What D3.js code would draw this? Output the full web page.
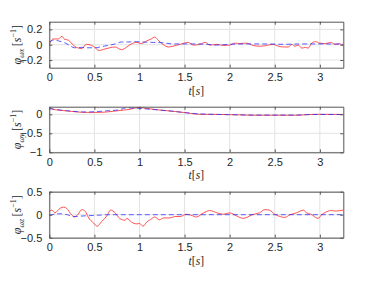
<!DOCTYPE html>
<html>
<head>
<meta charset="utf-8">
<script src="https://cdn.jsdelivr.net/npm/d3@7"></script>
<style>
  body { margin: 0; background: #fff; }
  text { font-family: "Liberation Sans", Arial, sans-serif; }
</style>
</head>
<body>
<svg id="chart" width="379" height="285"></svg>
<script>
// data
var xTicks = [0, 0.5, 1, 1.5, 2, 2.5, 3];

var tRedX = [0, 0.01, 0.045, 0.1, 0.14, 0.17, 0.21, 0.27, 0.3, 0.36, 0.41, 0.47, 0.51, 0.55, 0.62, 0.67, 0.73, 0.8, 0.86, 0.91, 0.97, 1.02, 1.08, 1.13, 1.17, 1.21, 1.26, 1.32, 1.37, 1.45, 1.54, 1.6, 1.67, 1.73, 1.78, 1.86, 1.93, 2.0, 2.06, 2.11, 2.19, 2.26, 2.34, 2.41, 2.48, 2.54, 2.61, 2.65, 2.69, 2.72, 2.76, 2.8, 2.84, 2.87, 2.91, 2.95, 3.0, 3.06, 3.12, 3.17, 3.21, 3.26];
var redX = [0.0, 0.03, 0.075, 0.075, 0.11, 0.07, 0.06, -0.01, -0.035, -0.05, 0.005, -0.01, -0.04, -0.075, -0.055, -0.04, -0.03, -0.065, -0.03, 0.01, 0.03, 0.015, 0.05, 0.075, 0.1, 0.055, 0.005, -0.03, -0.02, 0.005, 0.03, -0.005, 0.005, 0.03, -0.005, 0.005, -0.01, -0.005, 0.02, 0.015, 0.02, -0.01, -0.02, -0.01, 0.005, -0.02, -0.03, -0.03, 0.005, -0.02, -0.005, -0.045, -0.035, -0.045, 0.02, 0.04, 0.02, 0.015, 0.03, 0.005, 0.015, -0.02];
var tBlueX = [0, 0.045, 0.1, 0.17, 0.22, 0.28, 0.36, 0.43, 0.51, 0.58, 0.65, 0.73, 0.8, 0.87, 0.97, 1.04, 1.15, 1.26, 1.37, 1.48, 1.59, 1.75, 1.85, 2.0, 2.2, 2.4, 2.6, 2.8, 3.0, 3.26];
var blueX = [0.03, 0.06, 0.05, 0.025, -0.005, -0.04, -0.035, -0.04, -0.04, -0.025, -0.01, 0.01, 0.035, 0.035, 0.04, 0.035, 0.03, 0.025, 0.01, 0.01, 0.01, 0.005, -0.005, 0.005, 0.01, 0.01, 0.005, 0.01, 0.01, 0.005];

var tRedY = [0, 0.045, 0.19, 0.41, 0.56, 0.71, 0.82, 0.89, 0.99, 1.08, 1.23, 1.37, 1.52, 1.67, 1.78, 2.0, 2.11, 2.25, 2.48, 2.75, 2.85, 3.0, 3.26];
var redY = [0.18, 0.13, 0.09, 0.05, 0.05, 0.08, 0.11, 0.13, 0.18, 0.155, 0.11, 0.08, 0.04, 0.0, -0.0, -0.01, -0.015, -0.025, -0.025, -0.025, -0.01, 0.0, -0.005];
var tBlueY = [0, 0.19, 0.41, 0.63, 0.78, 0.85, 0.96, 1.08, 1.23, 1.37, 1.52, 1.67, 1.78, 2.0, 2.11, 2.25, 2.48, 2.75, 2.85, 3.0, 3.26];
var blueY = [0.15, 0.095, 0.06, 0.09, 0.12, 0.17, 0.16, 0.14, 0.11, 0.08, 0.04, 0.01, 0.0, -0.01, -0.015, -0.02, -0.02, -0.02, -0.01, -0.005, -0.005];

var tRedZ = [0, 0.03, 0.06, 0.12, 0.16, 0.19, 0.25, 0.28, 0.32, 0.36, 0.4, 0.43, 0.49, 0.53, 0.58, 0.64, 0.68, 0.73, 0.78, 0.84, 0.86, 0.91, 0.97, 1.0, 1.04, 1.08, 1.12, 1.17, 1.22, 1.27, 1.34, 1.39, 1.45, 1.52, 1.57, 1.63, 1.71, 1.78, 1.86, 1.93, 2.0, 2.08, 2.15, 2.2, 2.25, 2.33, 2.39, 2.44, 2.5, 2.56, 2.61, 2.67, 2.74, 2.82, 2.85, 2.9, 2.98, 3.02, 3.07, 3.12, 3.18, 3.26];
var redZ = [0.07, 0.1, 0.04, 0.14, 0.165, 0.14, -0.01, -0.05, 0.01, 0.11, 0.07, -0.05, -0.18, -0.25, -0.15, -0.02, 0.1, 0.04, -0.08, -0.12, -0.08, -0.16, -0.2, -0.19, -0.25, -0.16, -0.11, -0.05, -0.11, -0.07, -0.07, -0.04, -0.04, 0.01, -0.01, -0.05, 0.04, 0.09, 0.04, 0.01, 0.04, -0.03, -0.08, -0.05, 0.0, 0.04, 0.11, 0.1, 0.01, -0.04, -0.06, 0.0, 0.04, 0.1, 0.04, 0.01, -0.08, 0.0, 0.06, 0.09, 0.08, 0.1];
var tBlueZ = [0, 0.12, 0.2, 0.27, 0.35, 0.45, 0.55, 0.65, 0.8, 1.0, 1.5, 2.0, 2.5, 3.0, 3.26];
var blueZ = [-0.01, 0.02, 0.0, -0.04, -0.03, -0.02, -0.01, 0.0, 0.0, 0.0, 0.0, 0.0, 0.0, 0.0, 0.0];

var panels = [
  { top: 21.7, bottom: 67.7, yMin: -0.3, yMax: 0.3, yTicks: [-0.2, 0, 0.2], sub: "ωx",
    tRed: tRedX, red: redX, tBlue: tBlueX, blue: blueX },
  { top: 106.7, bottom: 152.3, yMin: -1, yMax: 0.2, yTicks: [-1, -0.5, 0], sub: "ωy",
    tRed: tRedY, red: redY, tBlue: tBlueY, blue: blueY },
  { top: 191.7, bottom: 237.7, yMin: -0.5, yMax: 0.5, yTicks: [-0.5, 0, 0.5], sub: "ωz",
    tRed: tRedZ, red: redZ, tBlue: tBlueZ, blue: blueZ }
];

var left = 49.3, right = 343.3;
var svg = d3.select("#chart");

var x = d3.scaleLinear().domain([0, 3.26]).range([left, right]);

panels.forEach(function (p, i) {
  var y = d3.scaleLinear().domain([p.yMin, p.yMax]).range([p.bottom, p.top]);
  var g = svg.append("g");

  // grid
  g.selectAll("line.gx").data(xTicks).enter().append("line")
    .attr("x1", function (d) { return x(d); }).attr("x2", function (d) { return x(d); })
    .attr("y1", p.top).attr("y2", p.bottom)
    .attr("stroke", "#e3e3e3").attr("stroke-width", 1);
  g.selectAll("line.gy").data(p.yTicks).enter().append("line")
    .attr("x1", left).attr("x2", right)
    .attr("y1", function (d) { return y(d); }).attr("y2", function (d) { return y(d); })
    .attr("stroke", "#e3e3e3").attr("stroke-width", 1);

  // curves
  var clipId = "clip" + i;
  svg.append("clipPath").attr("id", clipId).append("rect")
    .attr("x", left).attr("y", p.top).attr("width", right - left).attr("height", p.bottom - p.top);

  var line = d3.line().curve(d3.curveMonotoneX);

  g.append("path")
    .attr("clip-path", "url(#" + clipId + ")")
    .attr("d", line(p.tRed.map(function (t, k) { return [x(t), y(p.red[k])]; })))
    .attr("fill", "none").attr("stroke", "#ff2020").attr("stroke-width", 0.9)
    .attr("stroke-opacity", 0.85);

  g.append("path")
    .attr("clip-path", "url(#" + clipId + ")")
    .attr("d", line(p.tBlue.map(function (t, k) { return [x(t), y(p.blue[k])]; })))
    .attr("fill", "none").attr("stroke", "#2a2aff").attr("stroke-width", 0.9)
    .attr("stroke-dasharray", "5,3").attr("stroke-opacity", 0.85);

  // axes (MATLAB style: ticks inward, box)
  var xb = d3.axisBottom(x).tickValues(xTicks).tickSizeInner(-3).tickSizeOuter(0)
    .tickPadding(6).tickFormat(d3.format("~g"));
  var xt = d3.axisTop(x).tickValues(xTicks).tickSizeInner(-3).tickSizeOuter(0).tickFormat("");
  var yl = d3.axisLeft(y).tickValues(p.yTicks).tickSizeInner(-3).tickSizeOuter(0)
    .tickPadding(7).tickFormat(d3.format("~g"));
  var yr = d3.axisRight(y).tickValues(p.yTicks).tickSizeInner(-3).tickSizeOuter(0).tickFormat("");

  [
    g.append("g").attr("transform", "translate(0," + p.bottom + ")").call(xb),
    g.append("g").attr("transform", "translate(0," + p.top + ")").call(xt),
    g.append("g").attr("transform", "translate(" + left + ",0)").call(yl),
    g.append("g").attr("transform", "translate(" + right + ",0)").call(yr)
  ].forEach(function (a) {
    a.select(".domain").attr("stroke", "#555");
    a.selectAll(".tick line").attr("stroke", "#555");
    a.selectAll("text").attr("fill", "#262626").style("font-size", "11px")
      .style("font-family", "'Liberation Sans', Arial, sans-serif");
  });

  // x label
  var xl = g.append("text")
    .attr("x", (left + right) / 2).attr("y", p.bottom + 27)
    .attr("text-anchor", "middle")
    .style("font-family", "'Liberation Serif', serif").style("font-size", "11.5px")
    .attr("fill", "#262626");
  xl.append("tspan").style("font-style", "italic").text("t");
  xl.append("tspan").text("[");
  xl.append("tspan").style("font-style", "italic").text("s");
  xl.append("tspan").text("]");

  // y label
  var yl2 = g.append("text")
    .attr("transform", "translate(21," + ((p.top + p.bottom) / 2) + ") rotate(-90)")
    .attr("text-anchor", "middle")
    .style("font-family", "'Liberation Serif', serif").style("font-size", "12px")
    .attr("fill", "#262626");
  yl2.append("tspan").style("font-style", "italic").text("φ");
  yl2.append("tspan").style("font-style", "italic").style("font-size", "8px").attr("dy", 3).text(p.sub);
  yl2.append("tspan").attr("dy", -3).text("\u2009[");
  yl2.append("tspan").style("font-style", "italic").text("s");
  yl2.append("tspan").style("font-size", "8px").attr("dy", -5).text("−1");
  yl2.append("tspan").attr("dy", 5).text("]");
});
</script>
</body>
</html>
